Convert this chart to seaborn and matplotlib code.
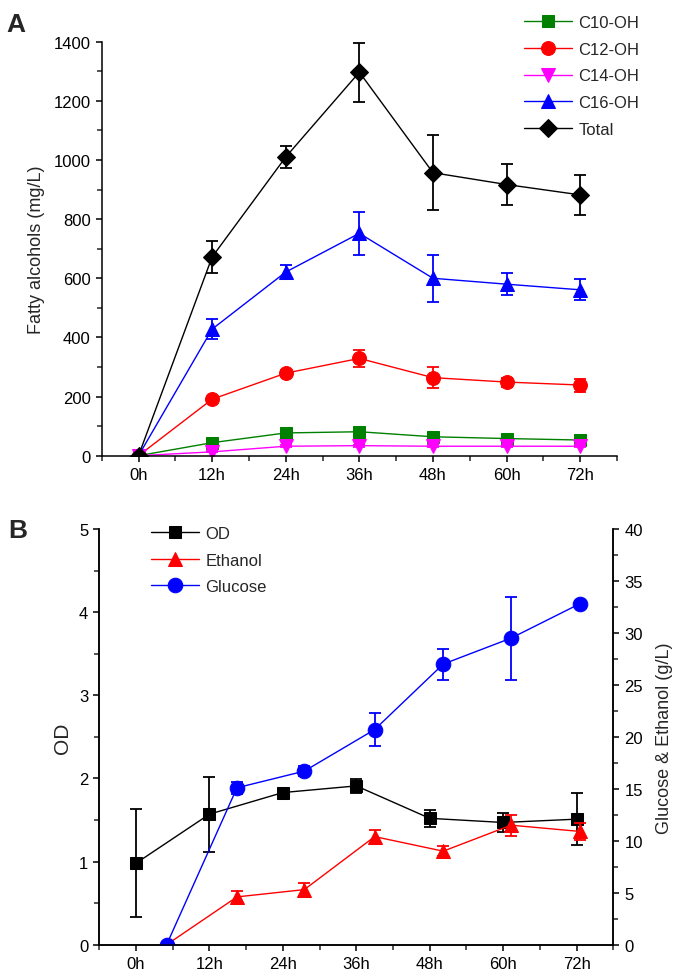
import matplotlib
matplotlib.use("Agg")
import matplotlib.pyplot as plt
from matplotlib.ticker import MultipleLocator
import seaborn as sns

sns.set_theme(style="ticks")
plt.rcParams['font.family'] = ['Liberation Sans', 'DejaVu Sans']

# ---- panel A data: fatty alcohols (mg/L)
hours = [0, 12, 24, 36, 48, 60, 72]
hour_labels = ["0h", "12h", "24h", "36h", "48h", "60h", "72h"]

c10 = [0, 44, 77, 81, 64, 58, 53]
c10_err = [2, 4, 5, 6, 4, 4, 4]
c12 = [0, 191, 279, 329, 264, 249, 239]
c12_err = [2, 8, 10, 29, 36, 15, 22]
c14 = [0, 13, 32, 34, 32, 32, 32]
c14_err = [1, 2, 3, 3, 3, 3, 3]
c16 = [0, 428, 621, 752, 600, 580, 561]
c16_err = [3, 33, 25, 73, 80, 38, 35]
total = [0, 672, 1010, 1297, 957, 917, 882]
total_err = [4, 54, 36, 100, 127, 70, 67]

# ---- panel B data
od = [0.98, 1.57, 1.83, 1.91, 1.52, 1.47, 1.51]
od_err = [0.65, 0.45, 0.04, 0.08, 0.10, 0.12, 0.31]
sample_hours = [5, 16.5, 27.5, 39, 50.2, 61.3, 72.5]
ethanol = [0, 4.6, 5.3, 10.4, 9.0, 11.5, 10.9]
ethanol_err = [0.1, 0.6, 0.6, 0.6, 0.5, 1.0, 0.8]
glucose = [0, 15.1, 16.7, 20.7, 27.0, 29.5, 32.8]
glucose_err = [0.1, 0.6, 0.5, 1.6, 1.5, 4.0, 0.3]

W, H = 675, 978
fig = plt.figure(figsize=(W / 100, H / 100), dpi=100)

axA = fig.add_axes([101.7 / W, 1 - 456.7 / H, (617 - 101.7) / W, (456.7 - 42.7) / H])
axB = fig.add_axes([99.3 / W, 1 - 945.7 / H, (613.3 - 99.3) / W, (945.7 - 530) / H])
axB2 = axB.twinx()


def series(ax, x, y, err, color, marker, label, ms=9):
    sns.lineplot(x=x, y=y, ax=ax, color=color, marker=marker, markersize=ms,
                 markeredgecolor=color, linewidth=1.0, label=label)
    ax.errorbar(x, y, yerr=err, fmt="none", ecolor=color, elinewidth=1.3,
                capsize=4, capthick=1.3)


series(axA, hours, c10, c10_err, "#008000", "s", "C10-OH", 8.5)
series(axA, hours, c12, c12_err, "#FF0000", "o", "C12-OH", 10)
series(axA, hours, c14, c14_err, "#FF00FF", "v", "C14-OH", 10.5)
series(axA, hours, c16, c16_err, "#0000FF", "^", "C16-OH", 10.5)
series(axA, hours, total, total_err, "black", "D", "Total", 9.5)

series(axB, hours, od, od_err, "black", "s", "OD", 9)
series(axB2, sample_hours, ethanol, ethanol_err, "#FF0000", "^", "Ethanol", 10.5)
series(axB2, sample_hours, glucose, glucose_err, "#0000FF", "o", "Glucose", 10.5)

tick_kw = dict(direction="out", width=1.1, labelsize=12, colors="black")
for ax in (axA, axB, axB2):
    ax.set_xlim(-6, 78)
    ax.set_xticks(hours)
    ax.set_xticklabels(hour_labels)
    ax.xaxis.set_minor_locator(MultipleLocator(6))
    ax.tick_params(which="major", length=4.5, **tick_kw)
    ax.tick_params(which="minor", length=3.5, width=1.1, direction="out")
    for s in ax.spines.values():
        s.set_linewidth(1.1)
        s.set_color("black")
    ax.set_xlabel("")
    ax.grid(False)

axA.set_ylim(0, 1400)
axA.yaxis.set_major_locator(MultipleLocator(200))
axA.yaxis.set_minor_locator(MultipleLocator(100))
axA.spines["top"].set_visible(False)
axA.spines["right"].set_visible(False)
axA.set_ylabel("Fatty alcohols (mg/L)", fontsize=13, labelpad=6)

axB.set_ylim(0, 5)
axB.yaxis.set_major_locator(MultipleLocator(1))
axB.yaxis.set_minor_locator(MultipleLocator(0.5))
axB2.set_ylim(0, 40)
axB2.yaxis.set_major_locator(MultipleLocator(5))
axB2.yaxis.set_minor_locator(MultipleLocator(2.5))
for ax in (axB, axB2):
    ax.spines["top"].set_visible(False)
axB.set_ylabel("OD", fontsize=15, labelpad=5)
axB2.set_ylabel("Glucose & Ethanol (g/L)", fontsize=13, labelpad=9)

leg_kw = dict(frameon=False, fontsize=12, handlelength=2.9, handletextpad=0.35,
              labelspacing=0.7, borderpad=0, borderaxespad=0, loc="upper left",
              bbox_transform=fig.transFigure)
axA.legend(bbox_to_anchor=(524 / W, 1 - 16 / H), **leg_kw)

hB, lB = axB.get_legend_handles_labels()
hB2, lB2 = axB2.get_legend_handles_labels()
if axB2.get_legend():
    axB2.get_legend().remove()
axB.legend(hB + hB2, lB + lB2, bbox_to_anchor=(151 / W, 1 - 527 / H), **leg_kw)

fig.text(6 / W, 1 - 32 / H, "A", fontsize=19, fontweight="bold")
fig.text(8 / W, 1 - 538 / H, "B", fontsize=19, fontweight="bold")

fig.savefig("out.png", dpi=100)
